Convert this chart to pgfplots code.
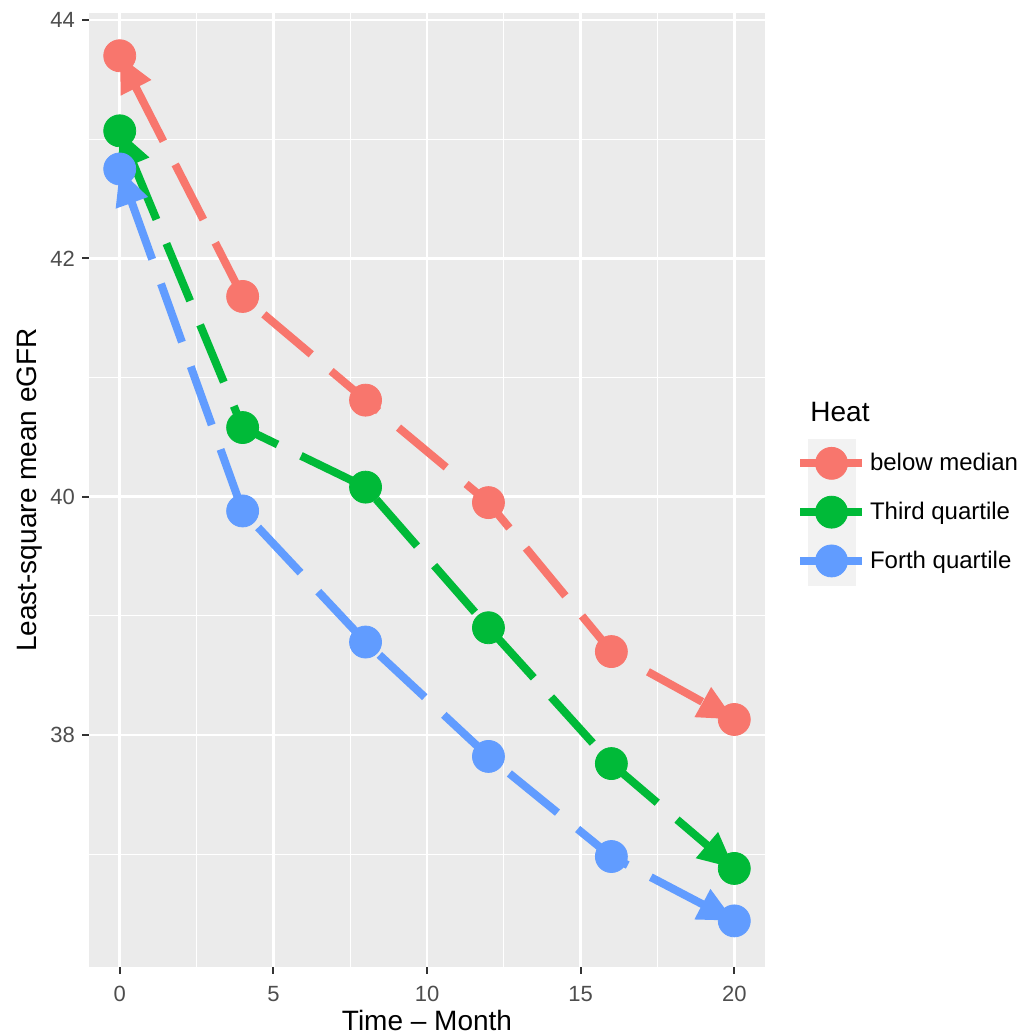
\documentclass[border=0pt]{standalone}
\usepackage{fontspec}
\setmainfont{Liberation Sans}
\usepackage{pgfplots}
\usepackage{pgfplotstable}
\pgfplotsset{compat=1.18}
\usetikzlibrary{arrows.meta}

\definecolor{cred}{HTML}{F8766D}
\definecolor{cgreen}{HTML}{00BA38}
\definecolor{cblue}{HTML}{619CFF}
\definecolor{panelbg}{HTML}{EBEBEB}
\definecolor{keybg}{HTML}{F2F2F2}
\definecolor{ticklab}{HTML}{4D4D4D}
\definecolor{tickcol}{HTML}{333333}

\pgfplotstableread{
x y
0 43.70
4 41.68
8 40.81
12 39.95
16 38.70
20 38.13
}\belowmedian
\pgfplotstableread{
x y
0 43.07
4 40.58
8 40.08
12 38.90
16 37.76
20 36.88
}\thirdq
\pgfplotstableread{
x y
0 42.75
4 39.88
8 38.78
12 37.82
16 36.98
20 36.44
}\forthq

\tikzset{
  seriesline/.style={line width=4pt, dash pattern=on 31pt off 13pt,
    arrows={Triangle[length=18pt,width=16pt]-Triangle[length=18pt,width=16pt]}},
}

\begin{document}
\begin{tikzpicture}
\path[use as bounding box] (-44.5pt,-34.5pt) rectangle (466pt,483.5pt);
\begin{axis}[
  scale only axis, width=338pt, height=477pt,
  clip mode=individual,
  xmin=-1, xmax=21, ymin=36.053, ymax=44.059,
  xtick={0,5,10,15,20}, ytick={38,40,42,44},
  minor xtick={2.5,7.5,12.5,17.5}, minor ytick={37,39,41,43},
  grid=both,
  major grid style={white, line width=1.3pt},
  minor grid style={white, line width=0.65pt},
  axis line style={draw=none},
  tick align=outside, xtick pos=left, ytick pos=left,
  major tick length=3.5pt, minor tick length=0pt,
  major tick style={tickcol, line width=1.1pt},
  tick label style={font=\fontsize{11}{13}\selectfont, text=ticklab},
  xticklabel style={yshift=-2.5pt},
  /pgf/number format/assume math mode=true,
  axis background/.style={fill=panelbg},
  xlabel={Time – Month}, ylabel={Least-square mean eGFR},
  label style={font=\fontsize{14}{16}\selectfont},
  xlabel style={at={(axis description cs:0.5,-0.0556)}, anchor=center},
  ylabel style={at={(axis description cs:-0.0873,0.5)}, anchor=center},
  legend style={at={(axis description cs:1.0459,0.5535)}, anchor=north west,
    draw=none, fill=none, inner sep=0pt, outer sep=0pt, row sep=0pt,
    column sep=2pt, font=\fontsize{12}{14}\selectfont,
    nodes={inner sep=0pt, outer sep=0pt}},
  legend cell align=left,
]
\addplot[cred, seriesline, forget plot] table[x=x,y=y] {\belowmedian};
\addplot[cgreen, seriesline, forget plot] table[x=x,y=y] {\thirdq};
\addplot[cblue, seriesline, forget plot] table[x=x,y=y] {\forthq};

\addplot[only marks, mark=*, mark size=8pt, cred,
  legend image code/.code={
    \fill[keybg] (0pt,-12pt) rectangle (23.5pt,12pt);
    \draw[cred, line width=4pt] (-4pt,0pt) -- (27pt,0pt);
    \fill[cred] (11.75pt,0pt) circle (8pt);
  }] table[x=x,y=y] {\belowmedian};
\addlegendentry{below median}
\addplot[only marks, mark=*, mark size=8pt, cgreen,
  legend image code/.code={
    \fill[keybg] (0pt,-12pt) rectangle (23.5pt,12pt);
    \draw[cgreen, line width=4pt] (-4pt,0pt) -- (27pt,0pt);
    \fill[cgreen] (11.75pt,0pt) circle (8pt);
  }] table[x=x,y=y] {\thirdq};
\addlegendentry{Third quartile}
\addplot[only marks, mark=*, mark size=8pt, cblue,
  legend image code/.code={
    \fill[keybg] (0pt,-12pt) rectangle (23.5pt,12pt);
    \draw[cblue, line width=4pt] (-4pt,0pt) -- (27pt,0pt);
    \fill[cblue] (11.75pt,0pt) circle (8pt);
  }] table[x=x,y=y] {\forthq};
\addlegendentry{Forth quartile}

\node[anchor=west, font=\fontsize{14}{16}\selectfont, inner sep=0pt] at (axis description cs:1.0666,0.5818) {Heat};
\end{axis}
\end{tikzpicture}
\end{document}
